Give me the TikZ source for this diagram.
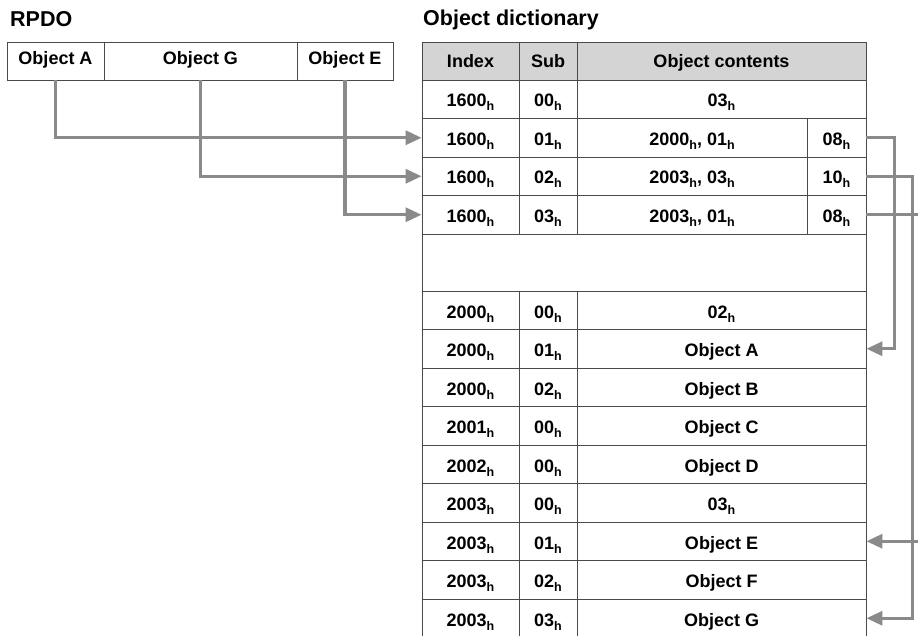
\documentclass[tikz,border=0pt]{standalone}
\usepackage{fontspec}
\setmainfont{Liberation Sans}
\usetikzlibrary{arrows.meta}
\definecolor{gridc}{HTML}{4A4A4A}
\definecolor{headc}{HTML}{D4D4D4}
\definecolor{arrc}{HTML}{8A8A8A}
\newcommand{\hx}{\raisebox{-4pt}{\fontsize{12.5}{12.5}\selectfont h}}
% full-width data row: name, y-centre, index, sub, contents
\newcommand{\drow}[5]{%
  \node[cell,minimum width=97pt]  (#1i) at (470.5,#2) {#3};
  \node[cell,minimum width=58pt]  (#1s) at (548,#2)   {#4};
  \node[cell,minimum width=289pt] (#1c) at (721.5,#2) {#5};}
% split mapping row: name, y-centre, index, sub, contents, length
\newcommand{\mrow}[6]{%
  \node[cell,minimum width=97pt]  (#1i) at (470.5,#2) {#3};
  \node[cell,minimum width=58pt]  (#1s) at (548,#2)   {#4};
  \node[cell,minimum width=230pt] (#1c) at (692,#2)   {#5};
  \node[cell,minimum width=59pt]  (#1w) at (836.5,#2) {#6};}
\tikzset{
  cell/.style={draw=gridc, line width=0.9pt, rectangle, inner sep=0pt,
    minimum height=38.5pt, text height=15.5pt, text depth=0pt,
    font=\fontsize{18}{21}\selectfont\bfseries, text=black},
  headcell/.style={cell, fill=headc, minimum height=38pt, text height=13pt},
  rcell/.style={cell, minimum height=38pt, text height=8pt},
  conn/.style={draw=arrc, line width=3.2pt, -{Triangle[length=16pt,width=14pt]}},
  title/.style={font=\fontsize{21.5}{25}\selectfont\bfseries, anchor=base west, inner sep=0pt}
}
\begin{document}
\begin{tikzpicture}[x=1pt,y=-1pt]
\useasboundingbox (0,0) rectangle (918,636);
\fill[white] (0,0) rectangle (918,636);
\clip (0,0) rectangle (918,636);

% titles
\node[title] (trpdo) at (10,26.5) {RPDO};
\node[title] (tod) at (423,25.5) {Object dictionary};

% RPDO
\node[rcell,minimum width=97pt]  (oa) at (55.5,61)  {Object A};
\node[rcell,minimum width=193pt] (og) at (200.5,61) {Object G};
\node[rcell,minimum width=96pt]  (oe) at (345,61)   {Object E};

% table header
\node[headcell,minimum width=97pt]  (hi) at (470.5,61) {Index};
\node[headcell,minimum width=58pt]  (hs) at (548,61)   {Sub};
\node[headcell,minimum width=289pt] (hc) at (721.5,61) {Object contents};

% mapping entries
\drow{r0}{99.25}{1600\hx}{00\hx}{03\hx}
\mrow{r1}{137.75}{1600\hx}{01\hx}{2000\hx, 01\hx}{08\hx}
\mrow{r2}{176.25}{1600\hx}{02\hx}{2003\hx, 03\hx}{10\hx}
\mrow{r3}{214.75}{1600\hx}{03\hx}{2003\hx, 01\hx}{08\hx}

% gap
\node[cell,minimum width=444pt,minimum height=57pt] (gap) at (644,262.5) {};

% objects
\drow{a0}{310.25}{2000\hx}{00\hx}{02\hx}
\drow{a1}{348.75}{2000\hx}{01\hx}{Object A}
\drow{a2}{387.25}{2000\hx}{02\hx}{Object B}
\drow{c0}{425.75}{2001\hx}{00\hx}{Object C}
\drow{d0}{464.25}{2002\hx}{00\hx}{Object D}
\drow{e0}{502.75}{2003\hx}{00\hx}{03\hx}
\drow{e1}{541.25}{2003\hx}{01\hx}{Object E}
\drow{e2}{579.75}{2003\hx}{02\hx}{Object F}
\drow{e3}{618.25}{2003\hx}{03\hx}{Object G}

% connectors RPDO -> mapping entries
\draw[conn] (oa.south) |- (r1i.west);
\draw[conn] (og.south) |- (r2i.west);
\draw[conn] (oe.south) |- (r3i.west);

% connectors mapping entries -> objects
\draw[conn] (r1w.east) -- ([xshift=28pt]r1w.east) |- (a1c.east);
\draw[conn] (r2w.east) -- ([xshift=46pt]r2w.east) |- (e3c.east);
\draw[conn] (r3w.east) -- ([xshift=56pt]r3w.east) |- (e1c.east);
\end{tikzpicture}
\end{document}
